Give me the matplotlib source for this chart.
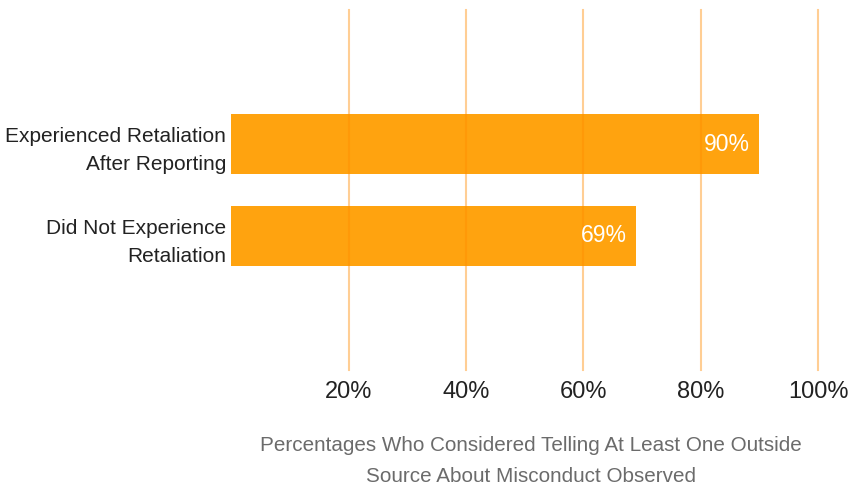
import matplotlib
matplotlib.use("Agg")
import matplotlib.pyplot as plt

categories = ["Experienced Retaliation\nAfter Reporting", "Did Not Experience\nRetaliation"]
values = [90, 69]
value_labels = ["90%", "69%"]
ticks = [20, 40, 60, 80, 100]
tick_labels = ["20%", "40%", "60%", "80%", "100%"]
xlabel = "Percentages Who Considered Telling At Least One Outside\nSource About Misconduct Observed"

plt.rcParams['font.family'] = ['Liberation Sans', 'DejaVu Sans']

fig = plt.figure(figsize=(8.57, 4.91), dpi=100)
ax = fig.add_axes([231.5/857, 1-370/491, (818-231.5)/857, 360/491])

pos = list(range(len(categories)))
ax.barh(pos, values, height=0.652, color='#FFA30F', zorder=1)
for x in ticks:
    ax.axvline(x, color=(1, 0.55, 0.0), alpha=0.42, lw=1.5, zorder=2, clip_on=False)

for p, v, lab in zip(pos, values, value_labels):
    ax.annotate(lab, (v, p), xytext=(-6.5, 0), textcoords='offset points',
                ha='right', va='center', color='white', fontsize=16.5, zorder=3)

ax.set_xlim(0, 100)
ax.set_ylim(2.457, -1.457)
ax.set_yticks(pos)
ax.set_yticklabels(categories, fontsize=15, color='#222222', ha='right',
                   linespacing=1.6)
ax.set_xticks(ticks)
ax.set_xticklabels(tick_labels, fontsize=17, color='#222222')
ax.tick_params(axis='both', length=0)
ax.tick_params(axis='y', pad=4)
ax.tick_params(axis='x', pad=8)
for s in ax.spines.values():
    s.set_visible(False)

fig.text(531/857, 1-461/491, xlabel, ha='center', va='center', fontsize=14.9,
         color='#6b6b6b', linespacing=1.85)

fig.savefig("out.png", dpi=100)
